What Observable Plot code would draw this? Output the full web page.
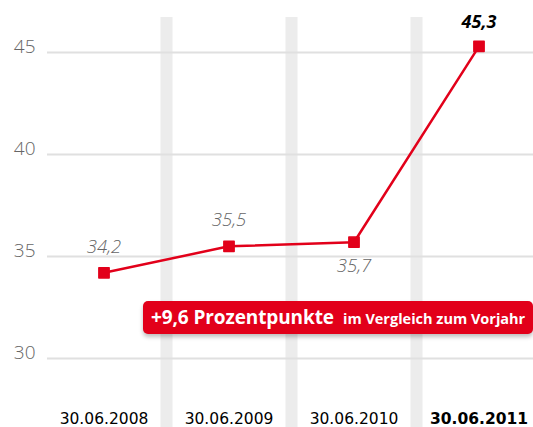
<!DOCTYPE html>
<html>
<head>
<meta charset="utf-8">
<script src="https://cdn.jsdelivr.net/npm/d3@7"></script>
<script src="https://cdn.jsdelivr.net/npm/@observablehq/plot@0.6"></script>
<style>
  html, body { margin: 0; padding: 0; background: #fff; }
  #chart { position: relative; width: 533px; height: 427px; overflow: hidden; }
  #chart svg { display: block; }
  .callout {
    position: absolute; left: 143px; top: 301px; width: 390px; height: 33px;
    background: #e2001a; border-radius: 5px; box-shadow: 0 3px 4px rgba(0,0,0,0.25);
    color: #fff; font-family: "Open Sans", sans-serif; font-weight: 700;
    display: flex; align-items: baseline; padding-left: 8px; box-sizing: border-box;
    line-height: 33px; white-space: nowrap;
  }
  .callout .big { font-size: 19px; letter-spacing: -0.1px; }
  .callout .small { font-size: 14.5px; margin-left: 9px; }
</style>
</head>
<body>
<div id="chart"></div>
<script>
const dates = ["30.06.2008", "30.06.2009", "30.06.2010", "30.06.2011"];
const values = [34.2, 35.5, 35.7, 45.3];
const yTicks = [30, 35, 40, 45];
const labelText = ["34,2", "35,5", "35,7", "45,3"];

const data = dates.map((d, i) => ({i, date: d, value: values[i], label: labelText[i]}));
const last = data.length - 1;
const red = "#e2001a";
const fmt = v => v.toLocaleString("de-DE", {minimumFractionDigits: 1, maximumFractionDigits: 1});

const chart = Plot.plot({
  width: 533,
  height: 427,
  marginTop: 17,
  marginBottom: 0,
  marginLeft: 47,
  marginRight: 0,
  style: {fontFamily: "Open Sans, sans-serif", background: "transparent"},
  x: {type: "linear", domain: [-0.5, dates.length - 0.5], range: [41, 541], axis: null},
  y: {domain: [30, 45], range: [358, 52], axis: null},
  marks: [
    Plot.ruleX(d3.range(0.5, dates.length - 1, 1), {stroke: "#ececec", strokeWidth: 12}),
    Plot.ruleY(yTicks, {stroke: "#e0e0e0", strokeWidth: 2}),
    Plot.text(yTicks, {y: d => d, text: d => String(d), frameAnchor: "left", textAnchor: "end",
      lineAnchor: "bottom", dx: -12, dy: 0, fontSize: 19, fontWeight: 300, fill: "#666"}),
    Plot.line(data, {x: "i", y: "value", stroke: red, strokeWidth: 2.5}),
    Plot.dot(data, {x: "i", y: "value", symbol: "square", r: 5.8, fill: red, stroke: red, strokeWidth: 1.5, strokeLinejoin: "round"}),
    Plot.text(data.filter(d => d.i < 2), {x: "i", y: "value", text: "label", lineAnchor: "bottom", dy: -20,
      fontSize: 18.5, fontStyle: "italic", fontWeight: 300, fill: "#666"}),
    Plot.text(data.filter(d => d.i === 2), {x: "i", y: "value", text: "label", lineAnchor: "top", dy: 17,
      fontSize: 18.5, fontStyle: "italic", fontWeight: 300, fill: "#666"}),
    Plot.text(data.filter(d => d.i === last), {x: "i", y: "value", text: "label", lineAnchor: "bottom", dy: -18,
      fontSize: 18, fontStyle: "italic", fontWeight: 700, fill: "#000"}),
    Plot.text(data.filter(d => d.i < last), {x: "i", text: "date", frameAnchor: "bottom", lineAnchor: "bottom", dy: -4,
      fontSize: 15.5, fontFamily: "DejaVu Sans", fill: "#000"}),
    Plot.text(data.filter(d => d.i === last), {x: "i", text: "date", frameAnchor: "bottom", lineAnchor: "bottom", dy: -4,
      fontSize: 15.5, fontFamily: "DejaVu Sans", fontWeight: 700, fill: "#000"})
  ]
});

const root = document.getElementById("chart");
root.appendChild(chart);
const diff = values[last] - values[last - 1];
const callout = document.createElement("div");
callout.className = "callout";
callout.innerHTML = `<span class="big">+${fmt(diff)} Prozentpunkte</span><span class="small">im Vergleich zum Vorjahr</span>`;
root.appendChild(callout);
</script>
</body>
</html>
